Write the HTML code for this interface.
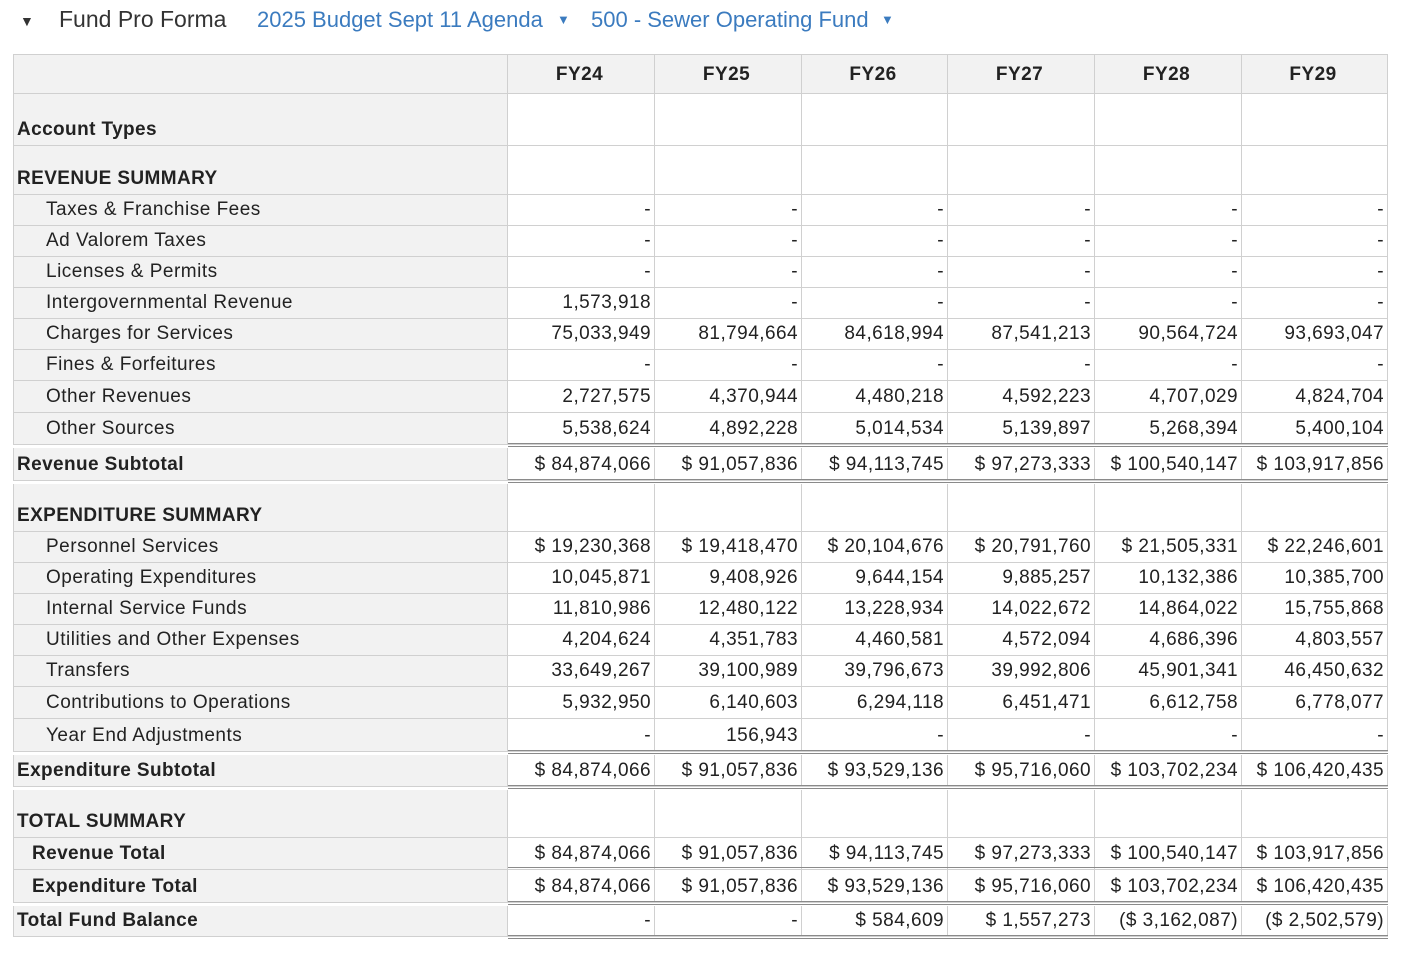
<!DOCTYPE html>
<html><head><meta charset="utf-8"><style>
body{margin:0;width:1409px;height:959px;background:#fff;position:relative;overflow:hidden;font-family:"Liberation Sans",Arial,sans-serif;color:#222}
.t{position:absolute;top:7px;font-size:22px;white-space:nowrap}
.r{position:absolute;left:13px;display:flex;border-top:1px solid #d0d0d0;box-sizing:border-box}
.r>div{box-sizing:border-box;border-right:1px solid #d0d0d0;display:flex;align-items:flex-end;padding-bottom:4px;font-size:19px;white-space:nowrap;background:#fff;letter-spacing:0.45px}
.r>div.l{width:495px;background:#f2f2f2;padding-left:3px;font-weight:bold;border-left:1px solid #d0d0d0;letter-spacing:0.4px}
.r>div.l.i{font-weight:normal;padding-left:32px;letter-spacing:0.5px}
.r>div.l.j{padding-left:18px}
.r>div.c{width:147px;justify-content:flex-end;padding-right:3px}
.r>div.c.n{width:146px}
.h>div{background:#f2f2f2 !important;justify-content:center !important;font-weight:bold;align-items:center;padding-bottom:0}
.d{position:absolute;left:508px;width:880px;height:2px;border-top:1px solid #8a8a8a;border-bottom:1px solid #8a8a8a;box-sizing:content-box}
</style></head><body>
<div class="t" style="left:20px;font-size:14px;top:13px;color:#333">▼</div>
<div class="t" style="left:59px;color:#333;font-size:23px;top:6px">Fund Pro Forma</div>
<div class="t" style="left:257px;color:#3b7bbf">2025 Budget Sept 11 Agenda</div>
<div class="t" style="left:557px;color:#3b7bbf;font-size:13px;top:12px">▼</div>
<div class="t" style="left:591px;color:#3b7bbf">500 - Sewer Operating Fund</div>
<div class="t" style="left:881px;color:#3b7bbf;font-size:13px;top:12px">▼</div>

<div class="r h" style="top:54px;height:40px"><div class="l"></div><div class="c">FY24</div><div class="c">FY25</div><div class="c n">FY26</div><div class="c">FY27</div><div class="c">FY28</div><div class="c n">FY29</div></div>
<div class="r" style="top:93px;height:52px"><div class="l">Account Types</div><div class="c"></div><div class="c"></div><div class="c n"></div><div class="c"></div><div class="c"></div><div class="c n"></div></div>
<div class="r" style="top:145px;height:49px"><div class="l">REVENUE SUMMARY</div><div class="c"></div><div class="c"></div><div class="c n"></div><div class="c"></div><div class="c"></div><div class="c n"></div></div>
<div class="r" style="top:194px;height:31px"><div class="l i">Taxes &amp; Franchise Fees</div><div class="c">-</div><div class="c">-</div><div class="c n">-</div><div class="c">-</div><div class="c">-</div><div class="c n">-</div></div>
<div class="r" style="top:225px;height:31px"><div class="l i">Ad Valorem Taxes</div><div class="c">-</div><div class="c">-</div><div class="c n">-</div><div class="c">-</div><div class="c">-</div><div class="c n">-</div></div>
<div class="r" style="top:256px;height:31px"><div class="l i">Licenses &amp; Permits</div><div class="c">-</div><div class="c">-</div><div class="c n">-</div><div class="c">-</div><div class="c">-</div><div class="c n">-</div></div>
<div class="r" style="top:287px;height:31px"><div class="l i">Intergovernmental Revenue</div><div class="c">1,573,918</div><div class="c">-</div><div class="c n">-</div><div class="c">-</div><div class="c">-</div><div class="c n">-</div></div>
<div class="r" style="top:318px;height:31px"><div class="l i">Charges for Services</div><div class="c">75,033,949</div><div class="c">81,794,664</div><div class="c n">84,618,994</div><div class="c">87,541,213</div><div class="c">90,564,724</div><div class="c n">93,693,047</div></div>
<div class="r" style="top:349px;height:31px"><div class="l i">Fines &amp; Forfeitures</div><div class="c">-</div><div class="c">-</div><div class="c n">-</div><div class="c">-</div><div class="c">-</div><div class="c n">-</div></div>
<div class="r" style="top:380px;height:32px"><div class="l i">Other Revenues</div><div class="c">2,727,575</div><div class="c">4,370,944</div><div class="c n">4,480,218</div><div class="c">4,592,223</div><div class="c">4,707,029</div><div class="c n">4,824,704</div></div>
<div class="r" style="top:412px;height:32px"><div class="l i">Other Sources</div><div class="c">5,538,624</div><div class="c">4,892,228</div><div class="c n">5,014,534</div><div class="c">5,139,897</div><div class="c">5,268,394</div><div class="c n">5,400,104</div></div>
<div class="r" style="top:444px;height:36px;padding-top:3px"><div class="l">Revenue Subtotal</div><div class="c">$ 84,874,066</div><div class="c">$ 91,057,836</div><div class="c n">$ 94,113,745</div><div class="c">$ 97,273,333</div><div class="c">$ 100,540,147</div><div class="c n">$ 103,917,856</div></div>
<div class="r" style="top:480px;height:51px;padding-top:3px"><div class="l">EXPENDITURE SUMMARY</div><div class="c"></div><div class="c"></div><div class="c n"></div><div class="c"></div><div class="c"></div><div class="c n"></div></div>
<div class="r" style="top:531px;height:31px"><div class="l i">Personnel Services</div><div class="c">$ 19,230,368</div><div class="c">$ 19,418,470</div><div class="c n">$ 20,104,676</div><div class="c">$ 20,791,760</div><div class="c">$ 21,505,331</div><div class="c n">$ 22,246,601</div></div>
<div class="r" style="top:562px;height:31px"><div class="l i">Operating Expenditures</div><div class="c">10,045,871</div><div class="c">9,408,926</div><div class="c n">9,644,154</div><div class="c">9,885,257</div><div class="c">10,132,386</div><div class="c n">10,385,700</div></div>
<div class="r" style="top:593px;height:31px"><div class="l i">Internal Service Funds</div><div class="c">11,810,986</div><div class="c">12,480,122</div><div class="c n">13,228,934</div><div class="c">14,022,672</div><div class="c">14,864,022</div><div class="c n">15,755,868</div></div>
<div class="r" style="top:624px;height:31px"><div class="l i">Utilities and Other Expenses</div><div class="c">4,204,624</div><div class="c">4,351,783</div><div class="c n">4,460,581</div><div class="c">4,572,094</div><div class="c">4,686,396</div><div class="c n">4,803,557</div></div>
<div class="r" style="top:655px;height:31px"><div class="l i">Transfers</div><div class="c">33,649,267</div><div class="c">39,100,989</div><div class="c n">39,796,673</div><div class="c">39,992,806</div><div class="c">45,901,341</div><div class="c n">46,450,632</div></div>
<div class="r" style="top:686px;height:32px"><div class="l i">Contributions to Operations</div><div class="c">5,932,950</div><div class="c">6,140,603</div><div class="c n">6,294,118</div><div class="c">6,451,471</div><div class="c">6,612,758</div><div class="c n">6,778,077</div></div>
<div class="r" style="top:718px;height:33px"><div class="l i">Year End Adjustments</div><div class="c">-</div><div class="c">156,943</div><div class="c n">-</div><div class="c">-</div><div class="c">-</div><div class="c n">-</div></div>
<div class="r" style="top:751px;height:35px;padding-top:3px"><div class="l">Expenditure Subtotal</div><div class="c">$ 84,874,066</div><div class="c">$ 91,057,836</div><div class="c n">$ 93,529,136</div><div class="c">$ 95,716,060</div><div class="c">$ 103,702,234</div><div class="c n">$ 106,420,435</div></div>
<div class="r" style="top:786px;height:51px;padding-top:3px"><div class="l">TOTAL SUMMARY</div><div class="c"></div><div class="c"></div><div class="c n"></div><div class="c"></div><div class="c"></div><div class="c n"></div></div>
<div class="r" style="top:837px;height:32px"><div class="l j">Revenue Total</div><div class="c">$ 84,874,066</div><div class="c">$ 91,057,836</div><div class="c n">$ 94,113,745</div><div class="c">$ 97,273,333</div><div class="c">$ 100,540,147</div><div class="c n">$ 103,917,856</div></div>
<div class="r" style="top:869px;height:33px"><div class="l j">Expenditure Total</div><div class="c">$ 84,874,066</div><div class="c">$ 91,057,836</div><div class="c n">$ 93,529,136</div><div class="c">$ 95,716,060</div><div class="c">$ 103,702,234</div><div class="c n">$ 106,420,435</div></div>
<div class="r" style="top:902px;height:35px;padding-top:3px;border-bottom:1px solid #d0d0d0"><div class="l">Total Fund Balance</div><div class="c">-</div><div class="c">-</div><div class="c n">$ 584,609</div><div class="c">$ 1,557,273</div><div class="c">($ 3,162,087)</div><div class="c n">($ 2,502,579)</div></div>

<div class="d" style="top:443px"></div>
<div class="d" style="top:479px"></div>
<div class="d" style="top:750px"></div>
<div class="d" style="top:785px"></div>
<div class="d" style="top:867px;height:0;border-bottom:none"></div>
<div class="d" style="top:901px"></div>
<div class="d" style="top:935px"></div>
</body></html>
